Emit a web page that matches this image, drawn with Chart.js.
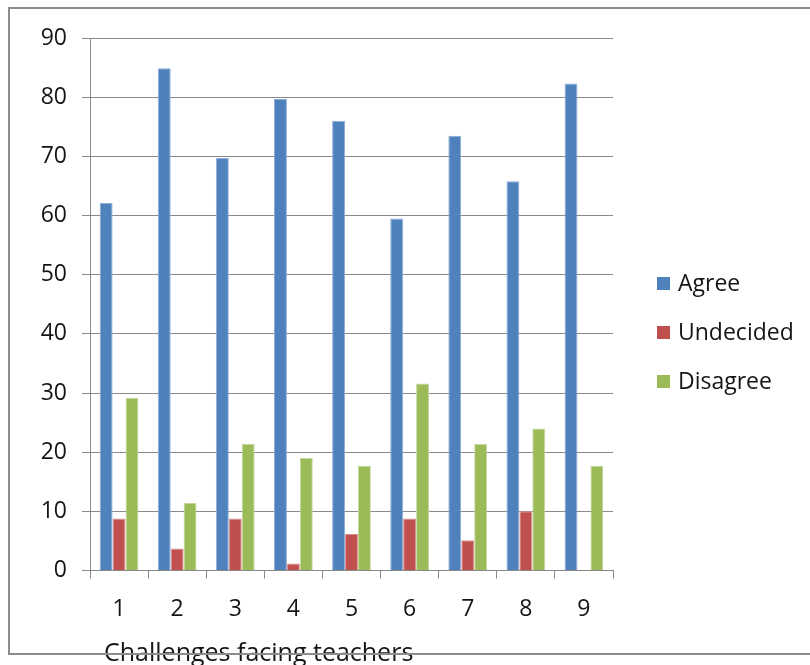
<!DOCTYPE html>
<html>
<head>
<meta charset="utf-8">
<script src="https://cdn.jsdelivr.net/npm/chart.js@4/dist/chart.umd.min.js"></script>
<style>
  html, body { margin: 0; padding: 0; background: #ffffff; }
  #wrap { position: relative; width: 810px; height: 665px; }
</style>
</head>
<body>
<div id="wrap"><canvas id="chart" width="810" height="665"></canvas></div>
<script>
// Survey responses (%) for each challenge facing teachers
const categories = ['1', '2', '3', '4', '5', '6', '7', '8', '9'];
const agree      = [62.1, 84.9, 69.7, 79.7, 76.0, 59.5, 73.5, 65.8, 82.3];
const undecided  = [8.8, 3.7, 8.8, 1.2, 6.2, 8.8, 5.1, 10.0, 0];
const disagree   = [29.2, 11.4, 21.4, 19.0, 17.7, 31.6, 21.4, 24.0, 17.7];
const seriesNames = ['Agree', 'Undecided', 'Disagree'];
const axisTitle = 'Challenges facing teachers';
const yMin = 0, yMax = 90, yStep = 10;

const FONT = "'Open Sans', 'DejaVu Sans', sans-serif";
const TEXT = '#151515';
const GRID = '#8a8a8a';

// Legend to the right of the plot, plus the axis title and the outer frame
const decorations = {
  id: 'decorations',
  afterDraw(chart) {
    const ctx = chart.ctx;
    ctx.save();
    // legend
    ctx.font = '23px ' + FONT;
    ctx.textBaseline = 'alphabetic';
    ctx.textAlign = 'left';
    const baselines = [291, 340, 389];
    chart.data.datasets.forEach((ds, i) => {
      const b = baselines[i];
      ctx.fillStyle = ds.backgroundColor;
      ctx.fillRect(657, b - 14, 13, 13);
      ctx.fillStyle = TEXT;
      ctx.fillText(ds.label, 678, b);
    });
    // axis title
    ctx.font = '25px ' + FONT;
    ctx.fillStyle = TEXT;
    ctx.fillText(axisTitle, 104, 661);
    // outer frame
    ctx.strokeStyle = '#8c8c8c';
    ctx.lineWidth = 2;
    ctx.beginPath();
    ctx.moveTo(812, 8);
    ctx.lineTo(9, 8);
    ctx.lineTo(9, 654);
    ctx.lineTo(812, 654);
    ctx.stroke();
    ctx.restore();
  }
};

Chart.defaults.font.family = FONT;
Chart.defaults.color = TEXT;

new Chart(document.getElementById('chart'), {
  type: 'bar',
  data: {
    labels: categories,
    datasets: [
      { label: seriesNames[0], data: agree,     backgroundColor: '#4F81BD', borderColor: '#8DADD6', borderWidth: 1 },
      { label: seriesNames[1], data: undecided, backgroundColor: '#C0504D', borderColor: '#D88F8D', borderWidth: 1 },
      { label: seriesNames[2], data: disagree,  backgroundColor: '#9BBB59', borderColor: '#C3D79C', borderWidth: 1 }
    ]
  },
  options: {
    responsive: false,
    animation: false,
    devicePixelRatio: 1,
    layout: { padding: { left: 0, top: 38, right: 197, bottom: 0 } },
    datasets: { bar: { categoryPercentage: 0.667, barPercentage: 1.0 } },
    plugins: {
      legend: { display: false },
      tooltip: { enabled: false }
    },
    scales: {
      x: {
        grid: { display: true, drawOnChartArea: false, drawTicks: true, offset: true, tickLength: 8, color: GRID, lineWidth: 1 },
        border: { display: true, color: GRID, width: 1 },
        ticks: { font: { size: 23 }, padding: 17, color: TEXT, maxRotation: 0 },
        afterFit(scale) { scale.height = 94.5; }
      },
      y: {
        min: yMin,
        max: yMax,
        grid: { color: GRID, lineWidth: 1, tickLength: 8, drawTicks: true },
        border: { display: true, color: GRID, width: 1 },
        ticks: { stepSize: yStep, font: { size: 23 }, padding: 15, color: TEXT },
        afterFit(scale) { scale.width = 90; }
      }
    }
  },
  plugins: [decorations]
});
</script>
</body>
</html>
